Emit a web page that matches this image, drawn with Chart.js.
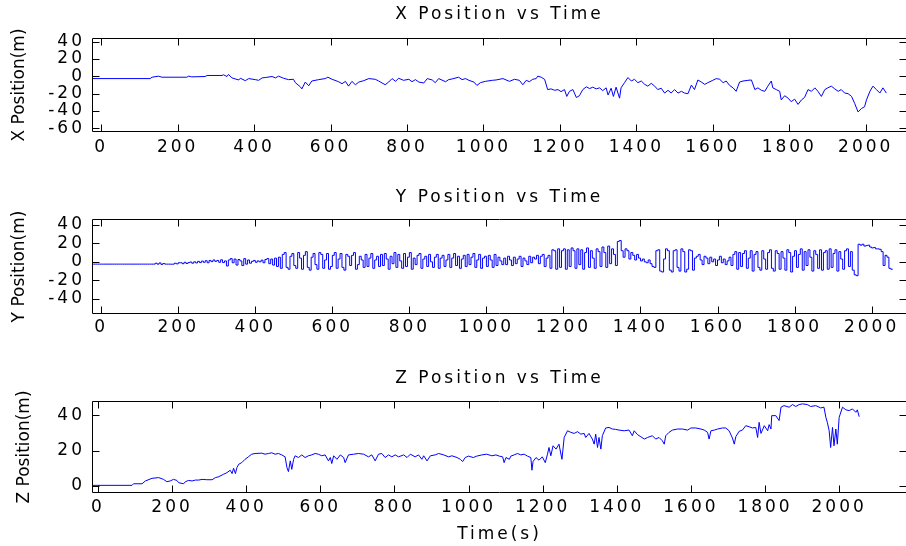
<!DOCTYPE html>
<html>
<head>
<meta charset="utf-8">
<script src="https://cdn.jsdelivr.net/npm/chart.js@4.4.1/dist/chart.umd.min.js"></script>
<style>
  html, body { margin: 0; padding: 0; background: #fff; overflow: hidden; width: 906px; height: 546px; }
  canvas { position: absolute; left: 0; display: block; }
</style>
</head>
<body>
<canvas id="panelX" width="907" height="180" style="top:0px"></canvas>
<canvas id="panelY" width="907" height="182" style="top:180px"></canvas>
<canvas id="panelZ" width="907" height="184" style="top:362px"></canvas>
<script>
// ---- tick positions ----
const TIME_TICKS = [0, 200, 400, 600, 800, 1000, 1200, 1400, 1600, 1800, 2000];
const X_TICKS = [-60, -40, -20, 0, 20, 40];
const Y_TICKS = [-40, -20, 0, 20, 40];
const Z_TICKS = [0, 20, 40];

// ---- X position (m) against time (s) ----
const X_TIME = [-24,128,133,150,159,224,229,237,272,277,316,320,329,333,342,360,364,377,386,403,
  412,421,429,447,456,464,477,490,503,508,521,525,534,543,551,569,586,593,604,621,
  630,639,647,656,665,674,687,700,717,726,743,752,761,770,778,791,805,813,822,831,
  844,853,866,874,883,901,909,918,935,944,953,962,975,983,992,1005,1023,
  1033,1051,1068,1081,1094,1103,1112,1120,1129,1138,1142,1151,1160,1168,1177,1186,1195,1203,1212,1218,
  1225,1234,1243,1251,1260,1269,1278,1286,1295,1304,1312,1321,1326,1334,1340,1347,1356,1360,1369,1378,
  1387,1395,1404,1413,1422,1430,1439,1448,1456,1465,1474,1483,1491,1500,1509,1518,1526,1535,1544,1552,
  1561,1570,1579,1587,1600,1609,1618,1627,1635,1644,1653,1661,1670,1679,1692,1701,1710,1718,1727,1736,
  1744,1753,1757,1766,1775,1779,1788,1797,1805,1814,1823,1832,1840,1849,1858,1867,1875,1884,1893,1901,
  1910,1919,1928,1936,1945,1954,1963,1971,1980,1989,1997,2002,2011,2019,2028,2037,2045,2054];
const X_POS = [-2.6,-2.6,-1.0,0.2,-1.0,-1.0,0.2,-0.6,-0.2,1.0,1.0,1.8,-0.2,2.2,-1.8,-4.2,-2.2,-5.0,-2.6,-3.8,
  -4.6,-1.8,-1.4,-0.2,-1.8,0.2,-2.2,-3.8,-3.4,-7.3,-12.1,-14.5,-6.6,-10.9,-5.4,-3.8,-2.6,-1.0,-3.4,-6.2,
  -8.5,-5.8,-11.3,-5.8,-9.7,-6.6,-5.0,-2.6,-3.4,-5.4,-9.7,-6.6,-2.6,-5.8,-2.2,-4.6,-3.4,-6.2,-3.8,-6.6,
  -7.7,-2.6,-4.2,-7.3,-2.6,-6.2,-3.8,-3.0,-1.0,-3.8,-2.6,-4.6,-6.6,-10.5,-7.3,-5.8,-4.6,
  -4.2,-2.6,-5.8,-3.4,-4.6,-9.7,-4.6,-6.2,-3.4,-2.6,0.2,-1.0,-3.4,-15.3,-14.5,-16.1,-15.3,-17.7,-15.3,-23.2,
  -17.3,-15.3,-24.4,-22.4,-15.3,-12.1,-14.1,-12.5,-14.5,-13.3,-16.5,-13.3,-21.6,-13.7,-23.2,-12.5,-25.2,-13.3,-7.3,-1.4,
  -5.4,-3.4,-7.3,-5.4,-9.3,-11.3,-8.1,-11.3,-15.3,-13.7,-19.3,-16.1,-19.3,-15.3,-19.3,-17.3,-19.3,-20.0,-10.1,-15.3,
  -4.2,-6.6,-9.3,-7.3,-4.6,-2.6,-3.4,-7.3,-5.4,-10.5,-13.3,-17.3,-6.6,-5.4,-4.6,-4.2,-15.3,-13.3,-16.1,-17.3,
  -11.3,-5.4,-13.3,-15.3,-17.3,-27.2,-22.4,-25.2,-29.2,-26.4,-32.4,-27.2,-24.4,-15.3,-17.3,-13.3,-17.3,-23.2,-15.3,-13.3,
  -11.3,-14.5,-17.3,-15.3,-19.3,-20.0,-23.2,-31.2,-41.1,-37.1,-35.1,-27.2,-17.3,-11.3,-15.3,-19.3,-13.3,-19.3];

// ---- Y position (m), sampled every 5 s from t = -25 s ----
const Y_START = -25;
const Y_STEP = 5;
const Y_POS = [
  -2.5,-2.5,-2.5,-2.5,-2.5,-2.5,-2.5,-2.5,-2.5,-2.5,-2.5,-2.5,-2.5,-2.5,-2.5,-2.5,-2.5,-2.5,-2.5,-2.5,
  -2.5,-2.5,-2.5,-2.5,-2.5,-2.5,-2.5,-2.5,-2.5,-2.5,-2.5,-2.5,-2.5,
  -1.5,-2.5,-1.2,-2.8,-1.8,-2.5,-2.5,-2.5,-2.6,-2.5,-1.5,-2.2,-1.0,
  -1.0,-2.0,-0.5,-1.8,-0.8,-0.2,-1.5,0.0,-1.2,0.5,-0.8,0.8,-0.5,1.2,-1.0,1.5,0.2,2.0,0.5,1.5,-0.5,2.2,-0.8,1.0,
  -4.5,2.0,3.5,-1.0,3.0,-3.5,2.5,1.0,-4.0,3.5,-2.5,2.0,-1.5,0.5,1.5,-0.5,1.0,0.0,1.8,-1.0,2.5,3.5,-2.0,3.0,-3.5,4.0,-5.0,5.0,
  -7,8,10,-6, -8,6,9,-4, -7,10,4,-8, 7,11,-6,-9, 5,9,-3,-8, 10,8,-7,2, 9,-8,-5,7, 10,-7,3,9,
  -6,-9,8,6, -4,7,10,-8, -3,6,2,-6, 8,-5,4,9, -7,2,6,-5, 8,-4,9,3, -8,6,-2,10, -6,8,1,-7,
  9,-5,5,10, -8,4,-3,7, 9,-7,3,6, -5,8,0,-6, 5,8,-7,4, 7,-5,2,8, -6,4,9,-4, 6,-7,3,7,
  -5,8,-3,5, 9,-6,2,8, -7,4,6,-5, 7,2,-6,8, -4,5,1,-3,
  4,-3,6,2,-4,5,-2,3,6,-5,4,1,-3,6,-1,5,3,7,-2,6,8,-5,4,7,
  -7,13,12,-8, 14,-6,12,14, -8,13,-5,15, 12,-7,14,-3, 13,-8,10,15, -6,12,4,-7, 14,11,-5,16, 10,-6,17,-2,
  14,8,-4,22, 23,12,
  5,14,12,3,10,7,2,8,4,1,3,0,-1,2,-2,-5,-6,
  12,13,-10,-11,3,14,12,-9,-11,12,13,-6,-10,14,11,-11,-8,13,12,-9,4,6,
  8,2,-3,6,4,-2,5,0,3,-4,2,6,-1,3,-3,1,5,
  -4,8,11,-8, 10,-5,9,12, -7,4,12,-10, 8,11,-6,-9, 12,3,-8,10, 13,-7,-10,12, 9,-8,11,4, -9,13,10,-11,
  6,12,-6,8, 14,-9,11,-4, 13,5,-10,12, 8,-7,13,-9, 10,12,-8,14, -6,9,13,-10, 11,3,-8,12, 14,-5,11,-9,
  -14,-15,
  19,18,19,17,17.5,18,16,15,15.5,14,14,13.5,11,-4,7,5,-7,-8,-8];

// ---- Z position (m) against time (s) ----
const Z_TIME = [-24,92,96,119,128,146,164,177,186,195,204,213,218,231,236,245,254,263,272,281,
  294,308,317,326,339,348,357,362,366,371,375,380,388,397,406,415,424,442,451,460,
  469,478,487,496,505,510,514,519,523,528,532,541,550,559,568,577,586,595,604,613,
  622,627,631,636,645,654,663,667,676,690,703,717,730,739,748,757,766,775,784,793,
  802,811,825,834,843,856,865,874,879,888,897,910,919,933,946,955,969,978,984,991,
  1000,1013,1022,1036,1049,1063,
  1074,1083,1092,1096,1101,1110,1114,1123,1132,1141,1150,1159,1168,1171,1174,1182,1190,1199,1207,1213,
  1217,1222,1228,1236,1244,1252,1258,1267,1276,1285,1294,1303,1312,1316,1325,1334,1339,1343,1348,1352,
  1357,1361,1370,1379,1388,1397,1406,1420,1433,1442,1447,1456,1465,1474,1483,1496,1505,1514,1523,1528,
  1532,1541,1550,1564,1577,1591,1600,1613,1627,1636,1645,1649,1654,1663,1672,1685,1694,1703,1712,1717,
  1721,1730,1739,1748,1757,1766,1775,1780,1784,1789,1798,1807,1811,1816,1818,1829,1838,1843,1851,1865,
  1874,1883,1892,1901,1914,1923,1937,1950,1959,1964,1968,1973,1977,1982,1986,1991,1995,2000,2009,2018,
  2027,2036,2045,2049,2054];
const Z_POS = [0.2,0.2,1.1,1.1,2.7,4.2,4.6,3.6,2.3,2.7,3.6,3.0,1.7,1.1,2.3,3.0,2.7,3.2,3.2,3.6,
  3.4,3.4,4.6,5.1,6.5,7.4,8.8,6.9,9.9,6.9,10.3,12.2,13.1,15.0,16.4,17.9,18.3,18.5,17.9,18.3,
  18.7,17.9,18.3,17.5,16.4,10.3,8.0,14.1,9.3,15.0,17.0,16.0,17.5,16.0,17.0,17.5,18.3,17.9,17.0,17.5,
  14.1,16.0,12.6,17.0,15.0,17.5,16.0,13.1,17.5,17.9,18.3,17.9,16.4,17.5,14.1,17.9,18.3,16.0,17.5,16.4,
  17.5,16.4,17.5,16.0,17.9,16.4,17.5,15.0,17.0,14.1,17.0,17.5,18.3,17.5,16.4,17.0,16.0,15.0,13.7,16.0,
  16.8,16.0,16.8,17.5,17.9,17.0,
  17.5,16.8,16.4,13.1,16.0,15.0,16.8,17.5,18.3,17.5,17.9,16.8,16.0,8.8,13.7,16.0,14.5,16.4,13.1,17.9,
  21.7,17.0,22.7,20.8,23.6,15.0,27.4,31.2,30.3,29.7,30.7,29.3,29.7,27.4,29.7,26.5,23.6,29.3,21.7,27.4,
  20.8,28.4,32.8,33.1,32.2,32.0,31.6,31.2,31.6,28.4,31.2,29.0,27.8,26.5,27.4,28.4,26.5,27.4,25.5,23.6,
  28.4,30.3,31.6,32.2,32.2,31.6,32.8,32.8,32.2,31.6,30.3,26.5,31.2,31.6,32.2,32.8,32.8,31.2,27.1,23.6,
  27.8,30.9,31.6,34.1,33.5,32.8,33.1,27.4,36.0,29.7,34.1,31.2,34.7,32.2,39.8,39.8,37.0,44.6,45.5,44.6,
  46.1,45.0,46.1,46.5,46.1,45.0,45.5,44.2,44.6,38.9,36.0,31.2,21.7,33.1,22.7,32.2,23.6,38.9,44.6,43.1,
  42.7,43.6,41.7,43.1,39.2];

const FONT = { family: '"DejaVu Sans", sans-serif', size: 17, weight: 'normal' };
const LINE_BLUE = '#0000ff';
const TICK_LEN = 7;

// Boxed axes with inward ticks on all four sides, a spaced-out text style,
// and a rotated y-axis caption.
const framePlugin = {
  id: 'frame',
  beforeDraw(chart) {
    chart.ctx.letterSpacing = '3px';
  },
  afterDraw(chart, args, opts) {
    const { ctx, chartArea: a, scales: { x, y } } = chart;
    const L = Math.round(a.left) + 0.5;
    const R = Math.round(a.right) - 0.5;
    const T = Math.floor(a.top) + 0.5;
    const B = Math.floor(a.bottom) + 0.5;
    ctx.save();
    ctx.letterSpacing = '0px';
    ctx.strokeStyle = '#000';
    ctx.lineWidth = 1;
    ctx.beginPath();
    ctx.moveTo(L, T); ctx.lineTo(R, T); ctx.lineTo(R, B); ctx.lineTo(L, B); ctx.closePath();
    x.ticks.forEach(t => {
      const px = Math.round(x.getPixelForValue(t.value)) + 0.5;
      ctx.moveTo(px, B); ctx.lineTo(px, B - TICK_LEN);
      ctx.moveTo(px, T); ctx.lineTo(px, T + TICK_LEN);
    });
    y.ticks.forEach(t => {
      const py = Math.round(y.getPixelForValue(t.value)) + 0.5;
      ctx.moveTo(L, py); ctx.lineTo(L + TICK_LEN, py);
      ctx.moveTo(R, py); ctx.lineTo(R - TICK_LEN, py);
    });
    ctx.stroke();
    if (opts.yTitle) {
      ctx.fillStyle = '#000';
      ctx.font = '17px "DejaVu Sans", sans-serif';
      ctx.textAlign = 'center';
      ctx.textBaseline = 'middle';
      ctx.translate(opts.yTitleX, (a.top + a.bottom) / 2);
      ctx.rotate(-Math.PI / 2);
      ctx.fillText(opts.yTitle, 0, 0);
    }
    ctx.restore();
  }
};

function toPoints(times, values) {
  return times.map((t, i) => ({ x: t, y: values[i] }));
}

function makePanel(id, p) {
  return new Chart(document.getElementById(id), {
    type: 'line',
    data: {
      datasets: [{
        data: p.points,
        borderColor: LINE_BLUE,
        borderWidth: 1,
        pointRadius: 0,
        fill: false,
        tension: 0,
        stepped: p.stepped || false
      }]
    },
    options: {
      responsive: false,
      animation: false,
      devicePixelRatio: 1,
      layout: { padding: 0 },
      plugins: {
        legend: { display: false },
        tooltip: { enabled: false },
        title: {
          display: true,
          text: p.title,
          fullSize: false,
          color: '#000',
          font: FONT,
          padding: { top: p.titleTop, bottom: p.titleBottom }
        },
        frame: { yTitle: p.yTitle, yTitleX: p.yTitleX }
      },
      scales: {
        x: {
          type: 'linear',
          bounds: 'data',
          min: p.xMin,
          max: p.xMax,
          afterFit: s => { s.height = p.xHeight; },
          afterBuildTicks: s => { s.ticks = TIME_TICKS.map(v => ({ value: v })); },
          grid: { display: false, drawTicks: false },
          border: { display: false },
          ticks: {
            color: '#000', font: FONT, padding: p.xPad,
            maxRotation: 0, autoSkip: false,
            callback: v => String(v)
          },
          title: p.xTitle ? {
            display: true, text: p.xTitle, color: '#000', font: FONT,
            padding: { top: 0, bottom: p.xTitleBottom }
          } : { display: false }
        },
        y: {
          type: 'linear',
          bounds: 'data',
          min: p.yMin,
          max: p.yMax,
          afterFit: s => { s.width = 92; },
          afterBuildTicks: s => { s.ticks = p.yTicks.map(v => ({ value: v })); },
          grid: { display: false, drawTicks: false },
          border: { display: false },
          ticks: { color: '#000', font: FONT, padding: 7, autoSkip: false, callback: v => String(v) }
        }
      }
    },
    plugins: [framePlugin]
  });
}

makePanel('panelX', {
  points: toPoints(X_TIME, X_POS),
  title: 'X Position vs Time', titleTop: 4.8, titleBottom: 13.3,
  yTitle: 'X Position(m)', yTitleX: 20,
  xMin: -24, xMax: 2108, xHeight: 48.5, xPad: 6,
  yMin: -63.7, yMax: 43.7, yTicks: X_TICKS
});

makePanel('panelY', {
  points: Y_POS.map((v, i) => ({ x: Y_START + i * Y_STEP, y: v })),
  stepped: true,
  title: 'Y Position vs Time', titleTop: 7.6, titleBottom: 11.5,
  yTitle: 'Y Position(m)', yTitleX: 20,
  xMin: -24, xMax: 2092, xHeight: 48.5, xPad: 4,
  yMin: -55.8, yMax: 45.7, yTicks: Y_TICKS
});

makePanel('panelZ', {
  points: toPoints(Z_TIME, Z_POS),
  title: 'Z Position vs Time', titleTop: 6.8, titleBottom: 12.3,
  yTitle: 'Z Position(m)', yTitleX: 25,
  xMin: -16, xMax: 2183, xHeight: 53.5, xPad: 5.3,
  xTitle: 'Time(s)', xTitleBottom: 1,
  yMin: -3.86, yMax: 47.84, yTicks: Z_TICKS
});
</script>
</body>
</html>
